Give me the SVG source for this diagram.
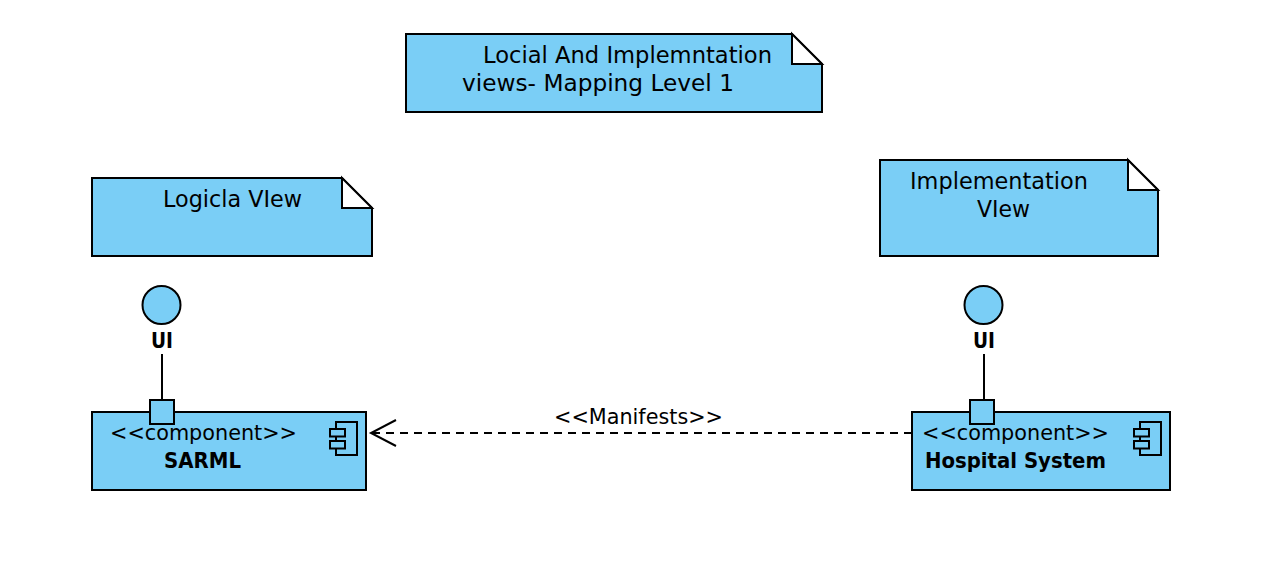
<svg xmlns="http://www.w3.org/2000/svg" width="1268" height="570" viewBox="0 0 1268 570">
<style>
.s{fill:#7acef6;stroke:#000;stroke-width:2}
.f{fill:#fff;stroke:#000;stroke-width:2;stroke-linejoin:miter}
.l{fill:none;stroke:#000;stroke-width:2}
.d{fill:none;stroke:#000;stroke-width:2;stroke-dasharray:8 6}
.t{font-family:"DejaVu Sans","Liberation Sans",sans-serif;font-size:22.5px;fill:#000}
.c{font-size:20.5px}
.b{font-family:"DejaVu Sans","Liberation Sans",sans-serif;font-size:21.5px;font-weight:bold;fill:#000}
</style>
<rect width="1268" height="570" fill="#fff"/>
<g id="connectors">
<path class="l" d="M162 354V400"/>
<path class="l" d="M984 354V400"/>
<path class="d" d="M912 433H372"/>
<path class="l" d="M396 420L371 433L396 446"/>
<text class="t c" x="554" y="424" textLength="169" lengthAdjust="spacingAndGlyphs">&lt;&lt;Manifests&gt;&gt;</text>
</g>
<g id="note-title">
<path class="s" d="M406 34H792L822 64V112H406Z"/>
<path class="f" d="M792 34L822 64H792Z"/>
<text class="t" x="483" y="63" textLength="289" lengthAdjust="spacingAndGlyphs">Locial And Implemntation</text>
<text class="t" x="462" y="91" textLength="272" lengthAdjust="spacingAndGlyphs">views- Mapping Level 1</text>
</g>
<g id="note-logical">
<path class="s" d="M92 178H342L372 208V256H92Z"/>
<path class="f" d="M342 178L372 208H342Z"/>
<text class="t" x="163" y="207" textLength="139" lengthAdjust="spacingAndGlyphs">Logicla VIew</text>
</g>
<g id="note-implementation">
<path class="s" d="M880 160H1128L1158 190V256H880Z"/>
<path class="f" d="M1128 160L1158 190H1128Z"/>
<text class="t" x="910" y="189" textLength="178" lengthAdjust="spacingAndGlyphs">Implementation</text>
<text class="t" x="977" y="217" textLength="53" lengthAdjust="spacingAndGlyphs">VIew</text>
</g>
<g id="interface-ui-left">
<circle class="s" cx="161.500" cy="305" r="19"/>
<text class="b" x="151" y="348" textLength="22" lengthAdjust="spacingAndGlyphs">UI</text>
</g>
<g id="interface-ui-right">
<circle class="s" cx="983.500" cy="305" r="19"/>
<text class="b" x="973" y="348" textLength="22" lengthAdjust="spacingAndGlyphs">UI</text>
</g>
<g id="component-sarml">
<rect class="s" x="92" y="412" width="274" height="78"/>
<rect class="s" x="150" y="400" width="24" height="24"/>
<rect class="l" x="336" y="422" width="21" height="33"/>
<rect class="s" x="330" y="429" width="15" height="7.500"/>
<rect class="s" x="330" y="441" width="15" height="7.500"/>
<text class="t c" x="110" y="440" textLength="187" lengthAdjust="spacingAndGlyphs">&lt;&lt;component&gt;&gt;</text>
<text class="b" x="164" y="468" textLength="77" lengthAdjust="spacingAndGlyphs">SARML</text>
</g>
<g id="component-hospital">
<rect class="s" x="912" y="412" width="258" height="78"/>
<rect class="s" x="970" y="400" width="24" height="24"/>
<rect class="l" x="1140" y="422" width="21" height="33"/>
<rect class="s" x="1134" y="429" width="15" height="7.500"/>
<rect class="s" x="1134" y="441" width="15" height="7.500"/>
<text class="t c" x="922" y="440" textLength="187" lengthAdjust="spacingAndGlyphs">&lt;&lt;component&gt;&gt;</text>
<text class="b" x="925" y="468" textLength="181" lengthAdjust="spacingAndGlyphs">Hospital System</text>
</g>
</svg>
